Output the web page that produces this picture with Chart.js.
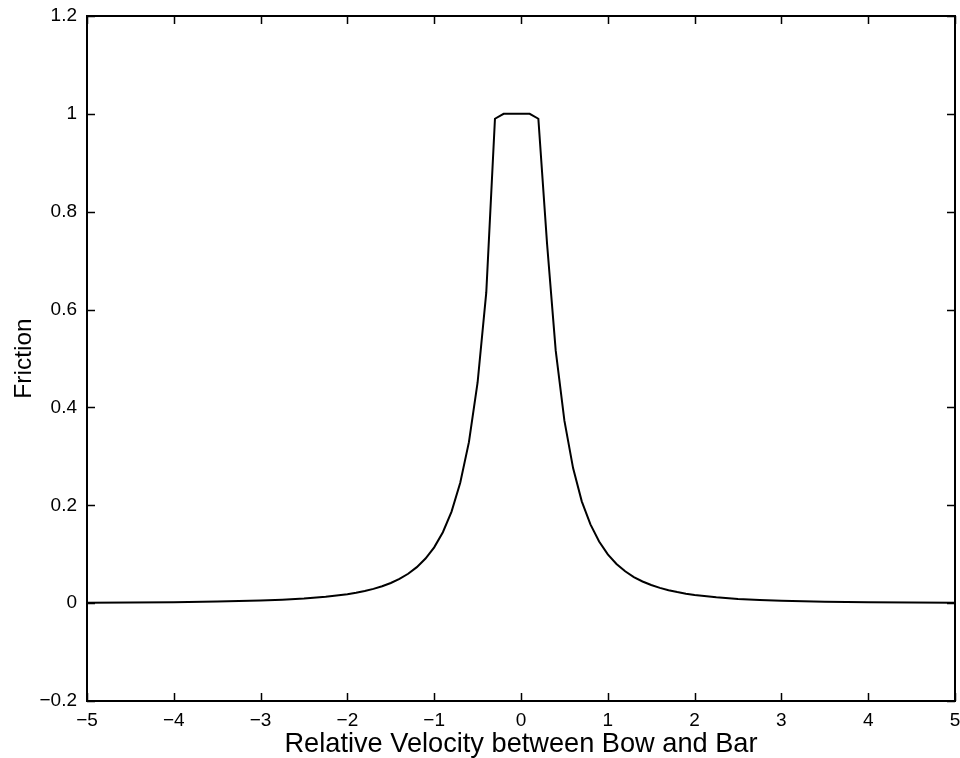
<!DOCTYPE html>
<html>
<head>
<meta charset="utf-8">
<script src="https://cdn.jsdelivr.net/npm/chart.js@4"></script>
<style>
  html, body { margin: 0; padding: 0; background: #fff; }
  #wrap { width: 960px; height: 758px; }
</style>
</head>
<body>
<div id="wrap"><canvas id="chart" width="960" height="758"></canvas></div>
<script>
// velocity samples (x) and friction (y)
const velocity = [
  -5, -4.5, -4, -3.5, -3, -2.75, -2.5, -2.25,
  -2, -1.9, -1.8, -1.7, -1.6, -1.5, -1.4, -1.3, -1.2, -1.1,
  -1, -0.9, -0.8, -0.7, -0.6, -0.5, -0.4, -0.3,
  -0.2, -0.1, 0, 0.1,
  0.2, 0.3, 0.4, 0.5, 0.6, 0.7, 0.8, 0.9, 1,
  1.1, 1.2, 1.3, 1.4, 1.5, 1.6, 1.7, 1.8, 1.9, 2,
  2.25, 2.5, 2.75, 3, 3.5, 4, 4.5, 5
];
const friction = [
  0.0010, 0.0013, 0.0020, 0.0032, 0.0052, 0.0069, 0.0093, 0.0129,
  0.0183, 0.0212, 0.0248, 0.0292, 0.0345, 0.0412, 0.0495, 0.0601, 0.0736, 0.0912,
  0.114, 0.145, 0.187, 0.246, 0.329, 0.451, 0.635, 0.99,
  1.0, 1.0, 1.0, 1.0,
  0.99, 0.735, 0.516, 0.373, 0.276, 0.208, 0.161, 0.126, 0.0996,
  0.0801, 0.0651, 0.0534, 0.0443, 0.0370, 0.0312, 0.0264, 0.0226, 0.0194, 0.0167,
  0.0119, 0.0086, 0.0064, 0.0049, 0.0030, 0.0019, 0.0013, 0.0009
];

const xTicks = [-5, -4, -3, -2, -1, 0, 1, 2, 3, 4, 5];
const xTickLabels = ['\u22125', '\u22124', '\u22123', '\u22122', '\u22121', '0', '1', '2', '3', '4', '5'];
const yTicks = [-0.2, 0, 0.2, 0.4, 0.6, 0.8, 1, 1.2];
const yTickLabels = ['\u22120.2', '0', '0.2', '0.4', '0.6', '0.8', '1', '1.2'];

const points = velocity.map((v, i) => ({ x: v, y: friction[i] }));

const FONT = 'Liberation Sans, Arial, Helvetica, sans-serif';

// matlab style box with inward ticks on all four sides
const boxTicks = {
  id: 'boxTicks',
  afterDraw(chart) {
    const ctx = chart.ctx;
    const a = chart.chartArea;
    const xs = chart.scales.x;
    const ys = chart.scales.y;
    const len = 8;
    ctx.save();
    ctx.strokeStyle = '#000';
    ctx.lineWidth = 2;
    ctx.strokeRect(a.left, a.top, a.right - a.left, a.bottom - a.top);
    ctx.lineWidth = 1.5;
    ctx.beginPath();
    xTicks.forEach(v => {
      const px = Math.round(xs.getPixelForValue(v)) + 0.5;
      ctx.moveTo(px, a.bottom); ctx.lineTo(px, a.bottom - len);
      ctx.moveTo(px, a.top); ctx.lineTo(px, a.top + len);
    });
    yTicks.forEach(v => {
      const py = Math.round(ys.getPixelForValue(v)) + 0.5;
      ctx.moveTo(a.left, py); ctx.lineTo(a.left + len, py);
      ctx.moveTo(a.right, py); ctx.lineTo(a.right - len, py);
    });
    ctx.stroke();
    ctx.restore();
  }
};

new Chart(document.getElementById('chart'), {
  type: 'scatter',
  data: {
    datasets: [{
      data: points,
      showLine: true,
      borderColor: '#000',
      borderWidth: 2,
      pointRadius: 0,
      tension: 0,
      fill: false
    }]
  },
  options: {
    responsive: false,
    animation: false,
    layout: { padding: { top: 16, right: 5, left: 0, bottom: 0 } },
    plugins: {
      legend: { display: false },
      tooltip: { enabled: false }
    },
    scales: {
      x: {
        type: 'linear',
        min: -5,
        max: 5,
        afterBuildTicks: s => { s.ticks = xTicks.map(v => ({ value: v })); },
        afterFit: s => {
          s.height = 57;
          s.paddingLeft = 0;
          s.paddingRight = 0;
        },
        grid: { display: false, drawTicks: false },
        border: { display: false },
        ticks: {
          color: '#000',
          padding: 8,
          maxRotation: 0,
          font: { family: FONT, size: 19 },
          callback: (v, i) => xTickLabels[i]
        },
        title: {
          display: true,
          text: 'Relative Velocity between Bow and Bar',
          color: '#000',
          font: { family: FONT, size: 27.2, lineHeight: 1 },
          padding: { top: 0, bottom: 0 }
        }
      },
      y: {
        type: 'linear',
        min: -0.2,
        max: 1.2,
        afterBuildTicks: s => { s.ticks = yTicks.map(v => ({ value: v })); },
        afterFit: s => {
          s.width = 87;
          s.paddingTop = 0;
          s.paddingBottom = 0;
        },
        grid: { display: false, drawTicks: false },
        border: { display: false },
        ticks: {
          color: '#000',
          padding: 10,
          font: { family: FONT, size: 19 },
          callback: (v, i) => yTickLabels[i]
        },
        title: {
          display: true,
          text: 'Friction',
          color: '#000',
          font: { family: FONT, size: 24.5, lineHeight: 1 },
          padding: { top: 12, bottom: 0 }
        }
      }
    }
  },
  plugins: [boxTicks]
});
</script>
</body>
</html>
